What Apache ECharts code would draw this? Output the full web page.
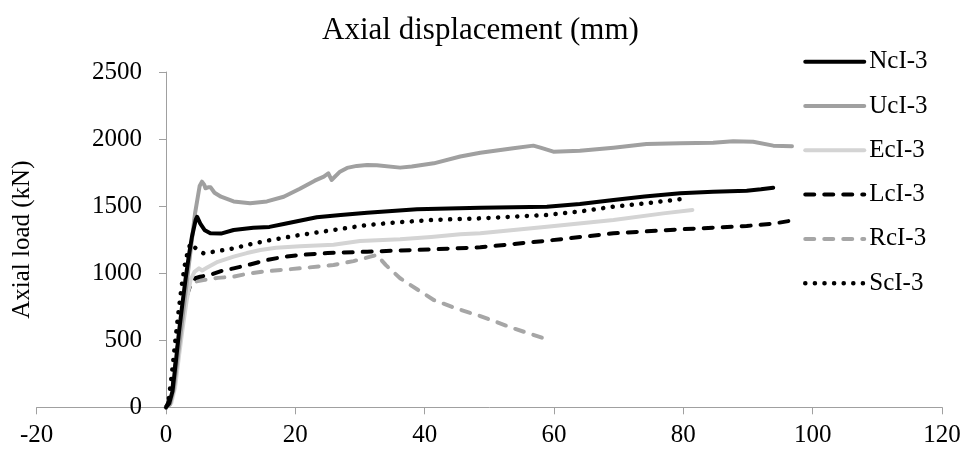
<!DOCTYPE html>
<html>
<head>
<meta charset="utf-8">
<script src="https://cdn.jsdelivr.net/npm/echarts@6/dist/echarts.min.js"></script>
<style>html,body{margin:0;padding:0;background:#fff}#c{width:961px;height:450px}</style>
</head>
<body>
<div id="c"></div>
<script>
const seriesNames = ['NcI-3','UcI-3','EcI-3','LcI-3','RcI-3','ScI-3'];
const xTicks = [-20, 0, 20, 40, 60, 80, 100, 120];
const yTicks = [0, 500, 1000, 1500, 2000, 2500];

const ncData = [[0,0],[0.5,30],[1,120],[1.5,330],[2,560],[2.5,760],[3,950],[3.5,1120],[4,1270],[4.6,1400],[4.8,1421],[5.3,1370],[6,1320],[6.85,1297],[8.5,1295],[10.45,1322],[13.5,1339],[16,1345],[18.2,1367],[23.3,1417],[27,1434],[31.1,1451],[38.8,1476],[48.6,1488],[58.9,1496],[64,1515],[69.2,1546],[74,1572],[79.5,1596],[84.6,1608],[89.8,1615],[92,1625],[93.9,1637]];
const ucData = [[0,0],[0.6,20],[1.2,140],[2,450],[3,850],[4,1250],[4.5,1450],[5.2,1650],[5.56,1682],[5.9,1660],[6.1,1633],[6.5,1640],[6.9,1640],[7.5,1600],[8.5,1570],[10.45,1535],[13,1521],[15.6,1535],[18.2,1570],[20.7,1630],[23,1690],[24.4,1720],[25.1,1745],[25.6,1695],[26.9,1757],[28,1785],[29.5,1800],[31.1,1807],[32.6,1805],[36.2,1787],[38,1795],[41.4,1819],[45.5,1870],[48.6,1898],[53.7,1931],[56.8,1951],[57.9,1936],[59.9,1906],[64,1913],[69.2,1936],[74.3,1963],[79.5,1968],[84.6,1973],[87.7,1983],[90.8,1980],[93.9,1951],[96.8,1946]];
const ecData = [[0,0],[0.8,30],[1.4,150],[2,380],[2.6,600],[3.2,800],[3.8,950],[4.4,1010],[5.1,1036],[5.6,1020],[6.3,1040],[8,1085],[10.45,1123],[12.5,1150],[14.6,1173],[17,1190],[20.7,1200],[25.9,1212],[30,1240],[36.2,1253],[41,1270],[45.5,1290],[48.6,1297],[58.9,1347],[69.2,1397],[76.9,1446],[81.4,1471]];
const lcData = [[0,0],[0.4,40],[0.9,104],[1.4,300],[2,520],[2.6,700],[3.2,830],[3.8,920],[4.5,962],[5.3,974],[7,990],[8.5,1015],[10.45,1036],[13,1065],[15.6,1098],[18,1120],[20.7,1136],[25,1150],[31.1,1160],[41.4,1178],[48.6,1193],[58.9,1242],[69.2,1297],[79.5,1327],[89.8,1352],[94,1370],[97.3,1397]];
const rcData = [[0,0],[0.5,30],[1,110],[1.5,320],[2,530],[2.6,720],[3.2,850],[3.8,910],[4.5,937],[6,950],[8,965],[10.45,974],[12.5,995],[15.6,1015],[20.7,1036],[25.9,1061],[29,1090],[31.6,1123],[32.6,1136],[34,1060],[36.2,962],[38,905],[41.4,800],[45,735],[48.6,680],[53.7,589],[58.9,507],[59.1,475]];
const scData = [[0,0],[0.4,50],[0.9,250],[1.4,480],[1.9,700],[2.4,900],[2.9,1060],[3.4,1170],[3.8,1223],[4.5,1190],[5.8,1148],[8,1165],[10.45,1185],[13,1215],[15.6,1242],[20.7,1285],[25.9,1322],[31.1,1359],[36,1380],[41.4,1397],[48.6,1409],[58.9,1434],[64,1460],[69.2,1496],[74,1520],[79.5,1551]];

const allData = [ncData, ucData, ecData, lcData, rcData, scData];
const colors = ['#000000','#a0a0a0','#d4d4d4','#000000','#a6a6a6','#000000'];
const dashes = ['solid','solid','solid',[9,10],[9,10],[0.1,9.5]];
const widths = [4,4,4,4,4,4.5];

const FONT = '"Liberation Serif","Times New Roman",serif';
const GRID_LEFT = 36.7, GRID_RIGHT = 19;
const plotW = 961 - GRID_LEFT - GRID_RIGHT;
// y axis sits at x = 0 of the x scale
const yAxisShift = plotW * (0 - xTicks[0]) / (xTicks[xTicks.length-1] - xTicks[0]);

const chart = echarts.init(document.getElementById('c'), null, {renderer:'canvas'});
chart.setOption({
  backgroundColor: '#ffffff',
  animation: false,
  title: {
    text: 'Axial displacement (mm)',
    left: 'center', top: 10,
    textStyle: {fontFamily: FONT, fontSize: 31, fontWeight: 'normal', color: '#000'}
  },
  legend: {
    orient: 'vertical', left: 803, top: 48.7, padding: 0,
    itemWidth: 59, itemHeight: 26, itemGap: 18.3,
    textStyle: {fontFamily: FONT, fontSize: 25, color: '#000', lineHeight: 26},
    itemStyle: {opacity: 0},
    data: seriesNames.map((n, i) => ({name: n,
      itemStyle: {opacity: 0},
      lineStyle: {width: widths[i], type: dashes[i], cap: 'round', color: colors[i]}}))
  },
  grid: {left: GRID_LEFT, right: GRID_RIGHT, top: 72, bottom: 42.7, containLabel: false, outerBoundsMode: 'none'},
  xAxis: {
    type: 'value', min: xTicks[0], max: xTicks[xTicks.length-1], interval: 20,
    axisLine: {onZero: false, lineStyle: {color: '#a0a0a0', width: 1}},
    axisTick: {show: true, length: 7, lineStyle: {color: '#a0a0a0'}},
    axisLabel: {fontFamily: FONT, fontSize: 25, color: '#000', margin: 16, formatter: v => String(v)},
    splitLine: {show: false}
  },
  yAxis: {
    type: 'value', min: yTicks[0], max: yTicks[yTicks.length-1], interval: 500,
    offset: -yAxisShift,
    name: 'Axial load (kN)', nameLocation: 'middle', nameGap: 131,
    nameTextStyle: {fontFamily: FONT, fontSize: 25, color: '#000'},
    axisLine: {show: true, onZero: false, lineStyle: {color: '#a0a0a0', width: 1}},
    axisTick: {show: true, length: 7, lineStyle: {color: '#a0a0a0'}},
    axisLabel: {fontFamily: FONT, fontSize: 25, color: '#000', margin: 24, formatter: v => String(v)},
    splitLine: {show: false}
  },
  series: seriesNames.map((n, i) => ({
    name: n, type: 'line', data: allData[i], showSymbol: false, symbol: 'none',
    smooth: false, clip: false,
    lineStyle: {color: colors[i], width: widths[i], type: dashes[i], cap: 'round', join: 'round'},
    itemStyle: {color: colors[i]},
    z: 10 - i
  }))
});
</script>
</body>
</html>
